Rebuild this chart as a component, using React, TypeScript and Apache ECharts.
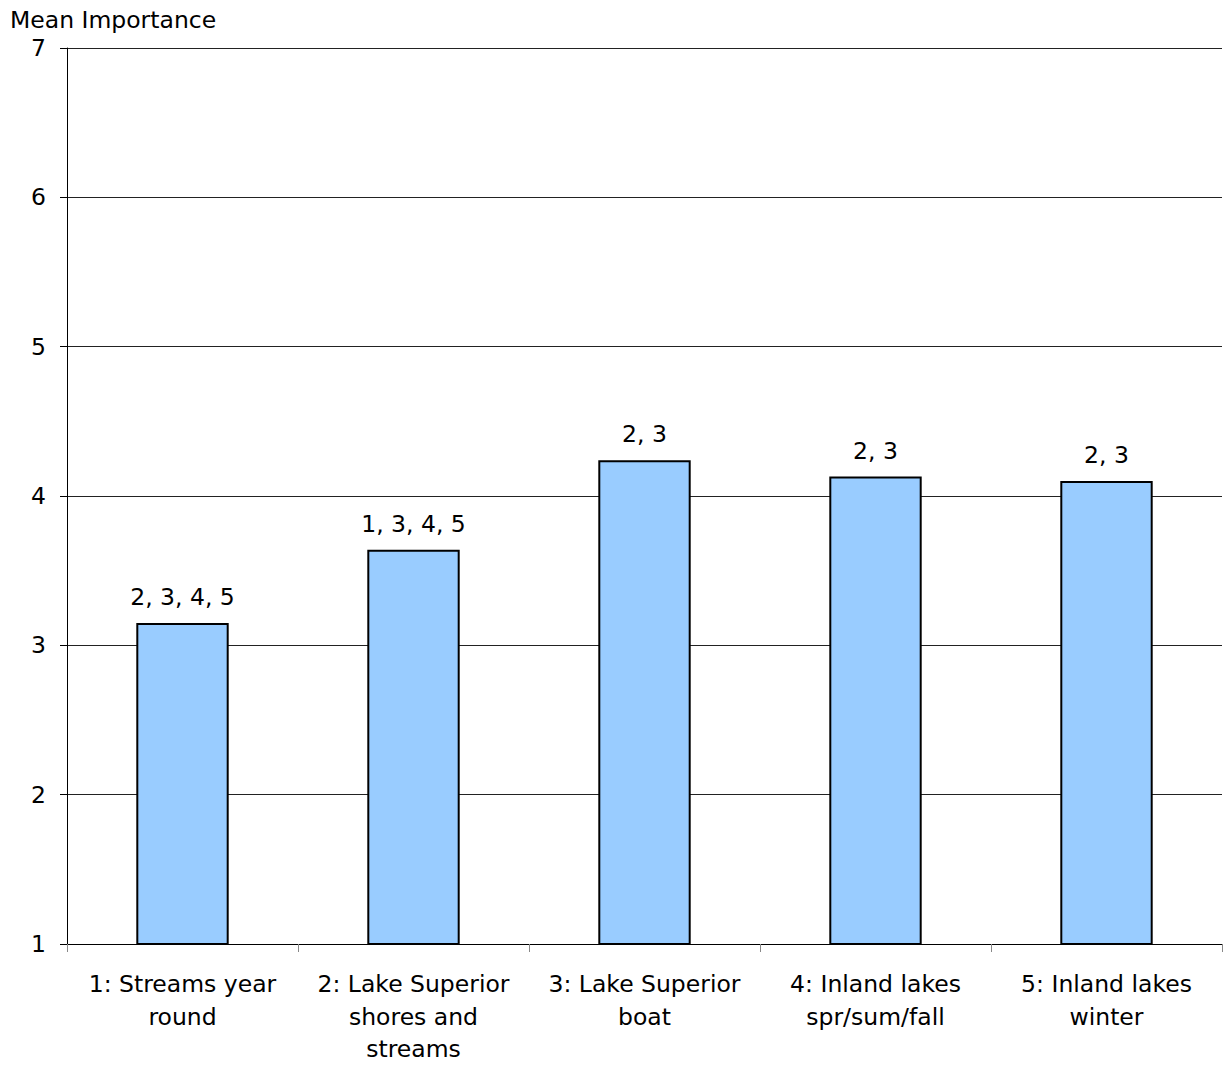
import React, { useEffect, useRef } from "react";
import * as echarts from "echarts";

const categories = [
  "1: Streams year\nround",
  "2: Lake Superior\nshores and\nstreams",
  "3: Lake Superior\nboat",
  "4: Inland lakes\nspr/sum/fall",
  "5: Inland lakes\nwinter",
];
const meanImportance = [3.15, 3.64, 4.24, 4.13, 4.1];
const significanceLabels = ["2, 3, 4, 5", "1, 3, 4, 5", "2, 3", "2, 3", "2, 3"];
const yAxisTitle = "Mean Importance";

const FONT = "Tahoma, 'DejaVu Sans', sans-serif";
const FS = 23.5;

export default function App() {
  const ref = useRef<HTMLDivElement>(null);
  useEffect(() => {
    document.body.style.margin = "0";
    const chart = echarts.init(ref.current!, null, { renderer: "svg" });
    chart.setOption({
      animation: false,
      textStyle: { fontFamily: FONT },
      grid: { left: 67, right: 1, top: 48, bottom: 121, containLabel: false, outerBoundsMode: "none" },
      graphic: [
        {
          type: "text",
          left: 10,
          top: 8,
          style: { text: yAxisTitle, font: `${FS}px ${FONT}`, fill: "#000" },
        },
      ],
      xAxis: {
        type: "category",
        data: categories,
        axisLine: { show: true, lineStyle: { color: "#000", width: 1 } },
        axisTick: { show: true, length: 8, lineStyle: { color: "#888" } },
        axisLabel: {
          color: "#000",
          fontSize: FS,
          lineHeight: 32.5,
          margin: 24,
          interval: 0,
          fontFamily: FONT,
        },
      },
      yAxis: {
        type: "value",
        min: 1,
        max: 7,
        interval: 1,
        axisLine: { show: true, lineStyle: { color: "#000", width: 1 } },
        axisTick: { show: true, length: 7, lineStyle: { color: "#000" } },
        axisLabel: { color: "#000", fontSize: FS, margin: 21, fontFamily: FONT },
        splitLine: { show: true, lineStyle: { color: "#222", width: 1 } },
      },
      series: [
        {
          type: "bar",
          data: meanImportance,
          barWidth: "40%",
          itemStyle: { color: "#99CCFF", borderColor: "#000", borderWidth: 2 },
          label: {
            show: true,
            position: "top",
            distance: 14,
            color: "#000",
            fontSize: FS,
            fontFamily: FONT,
            formatter: (p: any) => significanceLabels[p.dataIndex],
          },
        },
      ],
    });
    return () => chart.dispose();
  }, []);
  return <div ref={ref} style={{ width: 1223, height: 1065 }} />;
}
